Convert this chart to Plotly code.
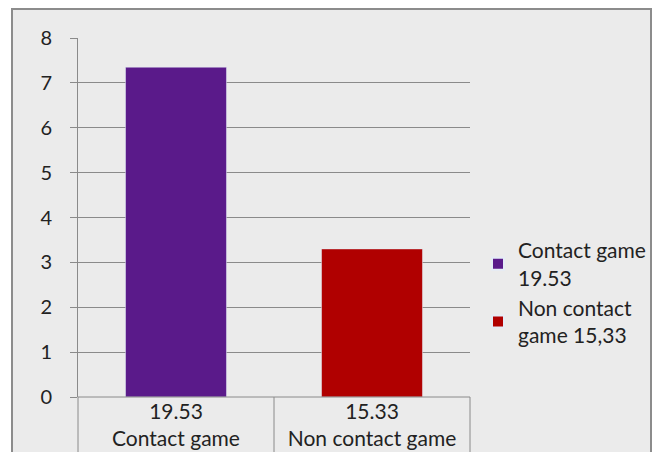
import plotly.graph_objects as go

categories = ["19.53<br>Contact game", "15.33<br>Non contact game"]
series_names = ["Contact game<br>19.53", "Non contact<br>game 15,33"]
values = [7.35, 3.3]
colors = ["#5a1a8a", "#b00000"]
y_ticks = [0, 1, 2, 3, 4, 5, 6, 7, 8]

W, H = 653, 452
L, R, T, B = 78, 470, 38, 397
pw, ph = R - L, B - T

def px(x):
    return (x - L) / pw

def py(y):
    return (B - y) / ph

fig = go.Figure()
for i, (cat, name, val, col) in enumerate(zip(categories, series_names, values, colors)):
    fig.add_trace(go.Bar(x=[cat], y=[val], name=name, marker_color=col,
                         width=0.515, offset=-0.2575))

font = "Lato, Arial, sans-serif"
fig.update_layout(
    width=W, height=H,
    margin=dict(l=L, r=W - R, t=T, b=H - B, pad=0, autoexpand=False),
    paper_bgcolor="white",
    plot_bgcolor="rgba(0,0,0,0)",
    font=dict(family=font, size=21, color="#222"),
    showlegend=True,
    barmode="overlay",
    legend=dict(x=px(478), y=py(293), xanchor="left", yanchor="middle",
                bgcolor="rgba(0,0,0,0)", font=dict(size=21, color="#222"),
                itemsizing="constant", tracegroupgap=2),
    xaxis=dict(categoryorder="array", categoryarray=categories,
               showgrid=False, showline=False, ticks="", ticklen=0,
               automargin=False,
               tickfont=dict(size=21, color="#222"), range=[-0.5, 1.5]),
    yaxis=dict(range=[0, 8], tickvals=y_ticks, showgrid=True, automargin=False,
               gridcolor="#8a8a8a", gridwidth=1, zeroline=False,
               showline=True, linecolor="#8a8a8a", linewidth=1,
               ticks="outside", ticklen=7, tickcolor="#8a8a8a",
               tickfont=dict(size=20, color="#222"), ticklabelstandoff=14),
)

# outer frame
fig.add_shape(type="rect", xref="paper", yref="paper",
              x0=px(12), x1=px(651), y0=py(470), y1=py(9),
              fillcolor="#ebebeb", line=dict(color="#8c8c8c", width=2),
              layer="below")
# x-axis baseline and category dividers
fig.add_shape(type="line", xref="paper", yref="paper", x0=0, x1=1, y0=0, y1=0,
              line=dict(color="#8a8a8a", width=1))
for xd in [0, 0.5, 1]:
    fig.add_shape(type="line", xref="paper", yref="paper", x0=xd, x1=xd,
                  y0=0, y1=py(460), line=dict(color="#8a8a8a", width=1))

fig.write_html("out.html")
